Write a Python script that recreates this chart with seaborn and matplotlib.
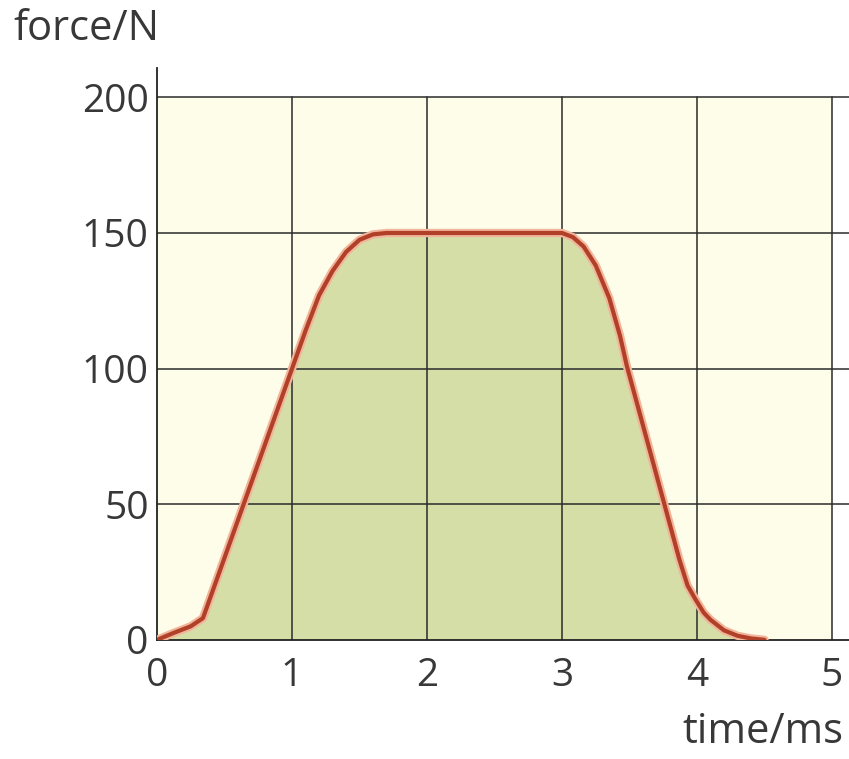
import matplotlib
matplotlib.use("Agg")
import matplotlib.pyplot as plt
import seaborn as sns
import pandas as pd

# force-time curve
time_ms = [0.0, 0.12, 0.25, 0.34, 1.0, 1.1, 1.2, 1.3, 1.4, 1.5, 1.6, 1.7,
           3.0, 3.08, 3.16, 3.25, 3.35, 3.43, 3.48, 3.87, 3.93, 3.99, 4.05, 4.1, 4.2, 4.3, 4.4, 4.5]
force_N = [0.0, 2.5, 5.0, 8.0, 100.0, 114.0, 127.0, 136.0, 143.0, 147.5, 149.5, 150.0,
           150.0, 148.5, 145.0, 138.0, 126.0, 112.0, 101.0, 29.5, 20.0, 14.8, 10.0, 7.4, 3.5, 1.5, 0.5, 0.0]
x_ticks = [0, 1, 2, 3, 4, 5]
y_ticks = [0, 50, 100, 150, 200]

df = pd.DataFrame({"time": time_ms, "force": force_N})

sns.set_style("white")
plt.rcParams['font.family'] = ['Open Sans', 'DejaVu Sans']

fig = plt.figure(figsize=(8.49, 7.59), dpi=100)
ax = fig.add_axes([0.185, 0.157, 0.815, 0.754])

# cream paper panel
ax.fill_between([0, 5], 0, 200, color="#fdfde9", zorder=0, linewidth=0)
# green area under the curve
ax.fill_between(df["time"], 0, df["force"], color="#d5dea6", zorder=1, linewidth=0)

for xv in x_ticks[1:]:
    ax.axvline(xv, ymin=0, ymax=200 / 211, color="#2b2b2b", lw=1.1, zorder=2)
for yv in y_ticks[1:]:
    ax.axhline(yv, color="#2b2b2b", lw=1.1, zorder=2)

sns.lineplot(data=df, x="time", y="force", ax=ax, color="#f2b49a", lw=6, zorder=3)
sns.lineplot(data=df, x="time", y="force", ax=ax, color="#b04028", lw=3, zorder=4)

ax.set_xlim(0, 5.126)
ax.set_ylim(0, 211)
ax.set_xticks(x_ticks)
ax.set_yticks(y_ticks)
ax.tick_params(axis="both", length=0, labelsize=28, labelcolor="#383838")
ax.tick_params(axis="x", pad=12)
ax.tick_params(axis="y", pad=6)
ax.set_xlabel("")
ax.set_ylabel("")

for s in ["top", "right"]:
    ax.spines[s].set_visible(False)
for s in ["left", "bottom"]:
    ax.spines[s].set_color("#222222")
    ax.spines[s].set_linewidth(1.3)

fig.text(0.016, 0.962, "force/N", fontsize=30, color="#383838", va="center", ha="left")
fig.text(0.993, 0.036, "time/ms", fontsize=30, color="#383838", va="center", ha="right")

fig.savefig("out.png", dpi=100, facecolor="white")
